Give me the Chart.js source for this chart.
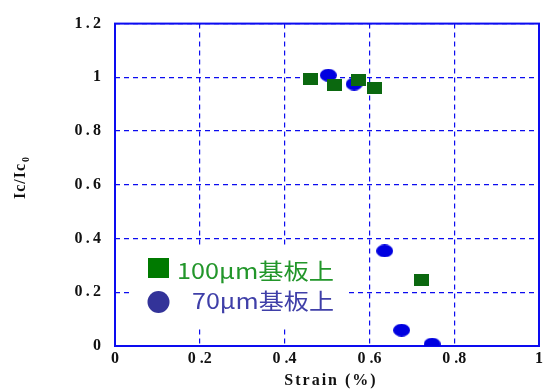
<!DOCTYPE html>
<html><head><meta charset="utf-8">
<script src="https://cdn.jsdelivr.net/npm/chart.js"></script>
<style>html,body{margin:0;padding:0;background:#fff}#wrap{width:548px;height:390px}</style>
</head><body><div id="wrap"><canvas id="c" width="548" height="390"></canvas></div>
<script>
const seriesNames = ['100μm基板上', '70μm基板上'];
const sq_strain = [0.462, 0.517, 0.575, 0.613, 0.723];
const sq_ic = [0.993, 0.970, 0.990, 0.960, 0.247];
const ci_strain = [0.503, 0.564, 0.636, 0.676, 0.748];
const ci_ic = [1.008, 0.975, 0.354, 0.059, 0.007];
const xTickLabels = {0:'0', 0.2:'0 .2', 0.4:'0 .4', 0.6:'0 .6', 0.8:'0 .8', 1:'1'};
const yTickLabels = {0:'0', 0.2:'0.2', 0.4:'0.4', 0.6:'0.6', 0.8:'0.8', 1:'1', 1.2:'1.2'};
const xTitle = 'Strain (%)';
const yTitle = 'Ic/Ic';

function mk(w,h,draw){const c=document.createElement('canvas');c.width=w;c.height=h;draw(c.getContext('2d'));return c;}
const sqImg = mk(15,12,g=>{g.fillStyle='#0b680f';g.fillRect(0,0,15,12);});
const ciImg = mk(17,13,g=>{g.fillStyle='#0000e0';g.beginPath();g.ellipse(8.5,6.5,8.5,6.5,0,0,Math.PI*2);g.fill();});

const GRID='#0c0cf0';
const frame = {
  id:'frame',
  beforeDatasetsDraw(chart){
    const {ctx, chartArea:a} = chart;
    ctx.save();
    ctx.fillStyle='#fff';
    ctx.fillRect(131,247,216,82);
    ctx.strokeStyle=GRID; ctx.lineWidth=2;
    ctx.strokeRect(a.left, a.top, a.right-a.left, a.bottom-a.top);
    ctx.restore();
  },
  afterDatasetsDraw(chart){
    const {ctx} = chart;
    ctx.save();
    ctx.fillStyle='#007a00'; ctx.fillRect(148,258,21,20);
    ctx.fillStyle='#333399'; ctx.beginPath(); ctx.arc(158.5,302,11,0,Math.PI*2); ctx.fill();
    ctx.font='22px "Noto Sans CJK JP", "Liberation Sans", sans-serif';
    ctx.textBaseline='alphabetic';
    const fitText=(t,x,y,w,col)=>{const m=ctx.measureText(t).width;ctx.save();ctx.translate(x,y);ctx.scale(w/m,1);ctx.fillStyle=col;ctx.fillText(t,0,0);ctx.restore();};
    fitText(seriesNames[0],177,279,157,'#22962a');
    fitText(seriesNames[1],192,309,142,'#3f3fa8');
    // titles
    ctx.fillStyle='#111';
    ctx.font='bold 16px "Liberation Serif", serif';
    ctx.letterSpacing='2px';
    ctx.textAlign='center'; ctx.textBaseline='middle';
    ctx.fillText(xTitle,331,381);
    ctx.save(); ctx.translate(21,178); ctx.rotate(-Math.PI/2);
    ctx.letterSpacing='1px';
    ctx.font='bold 16px "Liberation Serif", serif';
    const w2=ctx.measureText(yTitle).width;
    ctx.fillText(yTitle,-3,0);
    ctx.font='bold 10px "Liberation Serif", serif';
    ctx.fillText('0', -3+w2/2+4, 5);
    ctx.restore();
    ctx.restore();
  }
};

new Chart(document.getElementById('c'), {
  type:'scatter',
  data:{datasets:[
    {label:seriesNames[0], data:sq_strain.map((x,i)=>({x, y:sq_ic[i]})), pointStyle:sqImg, pointRadius:8, backgroundColor:'#0b680f'},
    {label:seriesNames[1], data:ci_strain.map((x,i)=>({x, y:ci_ic[i]})), pointStyle:ciImg, pointRadius:8, backgroundColor:'#0000e0'}
  ]},
  options:{
    responsive:false, animation:false, devicePixelRatio:1,
    layout:{padding:{top:21, right:4, left:0, bottom:0}},
    plugins:{legend:{display:false}, tooltip:{enabled:false}},
    scales:{
      x:{type:'linear', min:0, max:1,
        ticks:{stepSize:0.2, color:'#111', padding:3, maxRotation:0,
          font:{family:'"Liberation Serif", serif', weight:'bold', size:16},
          callback:v=>xTickLabels[Math.round(v*10)/10]},
        grid:{color:GRID, lineWidth:1.2, drawTicks:false, tickLength:0},
        border:{display:false, dash:[5,4]},
        afterFit(s){s.height=44;}
      },
      y:{type:'linear', min:0, max:1.2,
        ticks:{stepSize:0.2, color:'#111', padding:14,
          font:{family:'"Liberation Serif", serif', weight:'bold', size:16},
          callback:v=>yTickLabels[Math.round(v*10)/10].split('').join('\u2009')},
        grid:{color:GRID, lineWidth:1.2, drawTicks:false, tickLength:0},
        border:{display:false, dash:[5,4]},
        afterFit(s){s.width=115;}
      }
    }
  },
  plugins:[frame]
});
</script></body></html>
